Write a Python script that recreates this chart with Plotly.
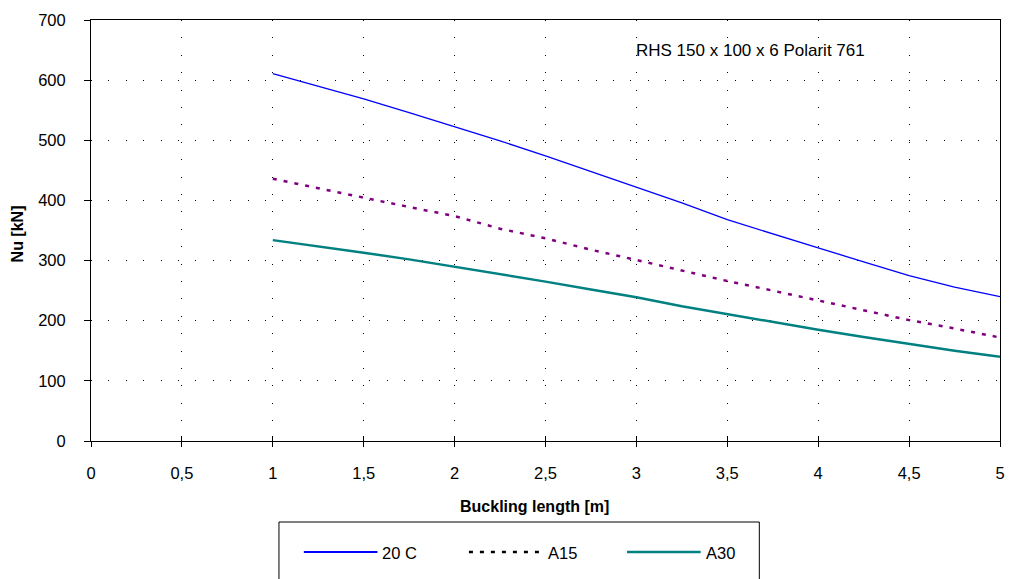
import plotly.graph_objects as go

# Data
length_m = [1.0, 1.25, 1.5, 1.75, 2.0, 2.25, 2.5, 2.75, 3.0,
            3.25, 3.5, 3.75, 4.0, 4.25, 4.5, 4.75, 5.0]
nu_20c = [611, 590, 569, 546, 523, 499, 474, 448, 421,
          396, 368, 344, 321, 298, 275, 256, 240]
nu_a15 = [436, 420, 405, 389, 374, 353, 337, 318, 301,
          283, 266, 250, 234, 217, 201, 187, 172]
nu_a30 = [334, 324, 313, 302, 290, 277, 265, 252, 239,
          224, 211, 197, 185, 173, 161, 150, 140]

x_ticks = [0, 0.5, 1, 1.5, 2, 2.5, 3, 3.5, 4, 4.5, 5]
x_tick_labels = ["0", "0,5", "1", "1,5", "2", "2,5", "3", "3,5", "4", "4,5", "5"]
y_ticks = [0, 100, 200, 300, 400, 500, 600, 700]

series_names = ["20 C", "A15", "A30"]
annotation_text = "RHS 150 x 100 x 6 Polarit 761"
x_title = "Buckling length [m]"
y_title = "Nu [kN]"

FONT = "Liberation Sans, Arial, sans-serif"
FS = 16.5

fig = go.Figure()
fig.add_trace(go.Scatter(x=length_m, y=nu_20c, mode="lines", name=series_names[0],
                         line=dict(color="#0000FF", width=1.3), showlegend=False))
fig.add_trace(go.Scatter(x=length_m, y=nu_a15, mode="lines", name=series_names[1],
                         line=dict(color="#800080", width=2.5, dash="4px,7px"), showlegend=False))
fig.add_trace(go.Scatter(x=length_m, y=nu_a30, mode="lines", name=series_names[2],
                         line=dict(color="#008080", width=2.5), showlegend=False))
# invisible trace on a twin x-axis that carries the inner half of the crossing ticks
fig.add_trace(go.Scatter(x=[length_m[0]], y=[nu_20c[0]], xaxis="x2", mode="markers",
                         marker=dict(opacity=0), hoverinfo="skip", showlegend=False))

W, H = 1010, 579
L, R, T, B = 91, 5, 20, 138
pw, ph = W - L - R, H - T - B

def px(xp):
    return (xp - L) / pw

def py(yp):
    return (H - B - yp) / ph

shapes = []
annotations = []
# legend box
shapes.append(dict(type="rect", xref="paper", yref="paper",
                   x0=px(280), x1=px(763), y0=py(522), y1=py(600),
                   line=dict(color="black", width=1), fillcolor="white", layer="above"))
leg_y = py(552)
swatches = [(305, 379, "#0000FF", "solid", 1.8),
            (471, 545, "black", "4px,7px", 2.5),
            (630, 704, "#008080", "solid", 2.5)]
for (a, b, c, d, w), name in zip(swatches, series_names):
    shapes.append(dict(type="line", xref="paper", yref="paper",
                       x0=px(a), x1=px(b), y0=leg_y, y1=leg_y,
                       line=dict(color=c, width=w, dash=d), layer="above"))
    annotations.append(dict(text=name, xref="paper", yref="paper", x=px(b + 3), y=py(553),
                            xanchor="left", yanchor="middle", showarrow=False,
                            font=dict(size=FS, color="black", family=FONT)))

annotations.append(dict(text=annotation_text, xref="x", yref="y", x=3.63, y=649,
                        xanchor="center", yanchor="middle", showarrow=False,
                        font=dict(size=17, color="black", family=FONT)))

annotations.append(dict(text="<b>" + x_title + "</b>", xref="paper", yref="paper",
                        x=px(537), y=py(506), xanchor="center", yanchor="middle",
                        showarrow=False, font=dict(size=16, color="black", family=FONT)))
annotations.append(dict(text="<b>" + y_title + "</b>", xref="paper", yref="paper",
                        x=px(17), y=py(234), xanchor="center", yanchor="middle",
                        textangle=-90, showarrow=False,
                        font=dict(size=16, color="black", family=FONT)))

grid = dict(showgrid=True, gridcolor="black", gridwidth=1, griddash="1px,16.4px")

fig.update_layout(
    width=W, height=H,
    margin=dict(l=L, r=R, t=T, b=B, pad=0),
    paper_bgcolor="white", plot_bgcolor="white",
    font=dict(family=FONT, size=FS, color="black"),
    shapes=shapes, annotations=annotations, showlegend=False,
    xaxis=dict(range=[0, 5], tickvals=x_ticks, ticktext=x_tick_labels,
               showline=True, linecolor="black", linewidth=1, mirror=True,
               ticks="outside", ticklen=5, tickcolor="black", ticklabelstandoff=12,
               zeroline=False, tickfont=dict(size=FS), **grid),
    xaxis2=dict(range=[0, 5], tickvals=x_ticks, overlaying="x", side="bottom",
                anchor="y", ticks="inside", ticklen=5, tickcolor="black",
                showticklabels=False, showgrid=False, showline=False, zeroline=False),
    yaxis=dict(range=[0, 700], tickvals=y_ticks,
               showline=True, linecolor="black", linewidth=1, mirror=True,
               ticks="outside", ticklen=6, tickcolor="black", ticklabelstandoff=15,
               zeroline=False, tickfont=dict(size=FS), **grid),
)

fig.write_html("out.html")
